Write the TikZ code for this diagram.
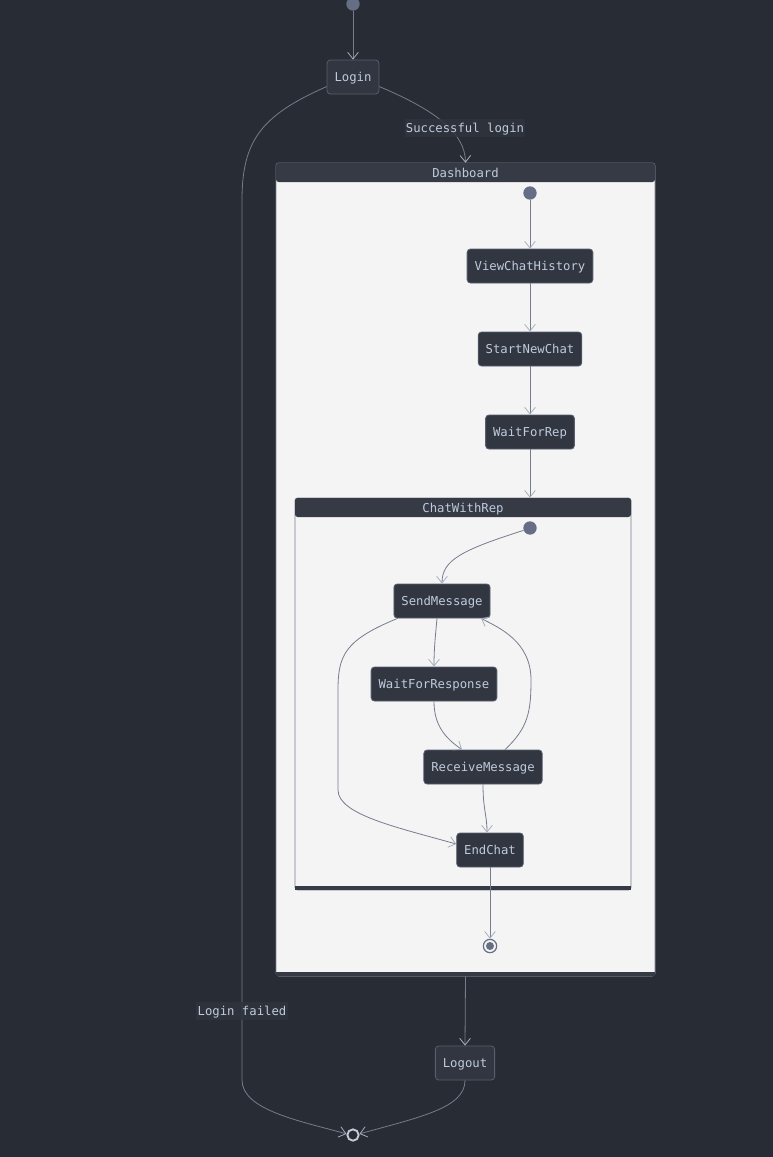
\documentclass[tikz,border=0pt]{standalone}
\usepackage{fontspec}
\setmonofont{DejaVu Sans Mono}
\usepackage{tikz}
\usetikzlibrary{arrows.meta}

\definecolor{bgc}{RGB}{40,44,52}
\definecolor{nodefill}{RGB}{50,54,65}
\definecolor{nodeline}{RGB}{88,94,112}
\definecolor{txtc}{RGB}{190,203,222}
\definecolor{headc}{RGB}{54,58,69}
\definecolor{bodyc}{RGB}{244,244,244}
\definecolor{clline}{RGB}{120,126,142}
\definecolor{edgec}{RGB}{118,124,142}
\definecolor{tipc}{RGB}{168,174,190}
\definecolor{startc}{RGB}{102,110,134}
\definecolor{labc}{RGB}{48,52,61}
\definecolor{ringc}{RGB}{200,204,214}

\tikzset{
  state/.style={draw=nodeline, fill=nodefill, rounded corners=2.5pt, text=txtc,
    font=\ttfamily\fontsize{9.2}{11}\selectfont, minimum height=25.5pt,
    text height=8pt, text depth=1pt,
    inner xsep=5.6pt, inner ysep=0pt, line width=0.6pt},
  cluster/.style={draw=clline, fill=bodyc, rounded corners=2pt, line width=0.6pt},
  clhead/.style={fill=headc, rounded corners=2pt, text=txtc, inner sep=0pt,
    text height=8pt, text depth=1pt,
    font=\ttfamily\fontsize{9.2}{11}\selectfont, minimum height=14.25pt},
  startdot/.style={circle, fill=startc, minimum size=10pt, inner sep=0pt},
  enddot/.style={circle, draw=startc, fill=bodyc, line width=0.9pt, minimum size=10pt,
    inner sep=0pt, path picture={\fill[startc] (path picture bounding box.center) circle (3pt);}},
  finaldot/.style={circle, draw=ringc, fill=bgc, line width=1.4pt, minimum size=8.5pt, inner sep=0pt},
  elabel/.style={fill=labc, fill opacity=0.85, text opacity=1, text=txtc, inner xsep=1pt, inner ysep=2pt,
    text height=8pt, text depth=1pt,
    font=\ttfamily\fontsize{9.2}{11}\selectfont},
  edge/.style={draw=edgec, line width=0.6pt, ->},
}

\begin{document}
\begin{tikzpicture}[x=0.75pt, y=-0.75pt, >={Straight Barb[length=5pt,width=8pt,color=tipc]}]
	% Background:
	\fill[bgc] (0,0) rectangle (773,1157);
	\useasboundingbox (0,0) rectangle (773,1157);
	% Composite states:
	\node[cluster, minimum width=284.25pt, minimum height=609.75pt] (Dash) at (465.5,569.5) {};
	\fill[headc] ([yshift=3pt]Dash.south west) rectangle (Dash.south east);
	\node[clhead, minimum width=284.25pt] (DashT) at (465.5,172.5) {Dashboard};
	\node[cluster, minimum width=252pt, minimum height=294pt] (Chat) at (463,694) {};
	\fill[headc] ([yshift=3pt]Chat.south west) rectangle (Chat.south east);
	\node[clhead, minimum width=252pt] (ChatT) at (463,507.5) {ChatWithRep};
	% States:
	\node[startdot] (S0) at (353,4) {};
	\node[state] (Login) at (353,77) {Login};
	\node[startdot] (S1) at (530,193) {};
	\node[state] (VCH) at (530,266) {ViewChatHistory};
	\node[state] (SNC) at (530,349) {StartNewChat};
	\node[state] (WFRep) at (530,432) {WaitForRep};
	\node[startdot] (S2) at (530,528) {};
	\node[state] (SM) at (442,601) {SendMessage};
	\node[state] (WFR) at (434,684) {WaitForResponse};
	\node[state] (RM) at (483,767) {ReceiveMessage};
	\node[state] (EC) at (490,850) {EndChat};
	\node[enddot] (E1) at (490,946) {};
	\node[state] (Logout) at (465,1063) {Logout};
	\node[finaldot] (Fin) at (353,1135) {};
	% Transitions:
	\draw[edge] (S0) -- (Login);
	\draw[edge] (Login.340) .. controls (440,112) and (465,135) .. (DashT.north);
	\draw[edge] (Login.200) .. controls (262,115) and (242,140) .. (242,200) -- (242,1080)
		.. controls (242,1110) and (300,1121) .. (Fin.170);
	\draw[edge] (S1) -- (VCH);
	\draw[edge] (VCH) -- (SNC);
	\draw[edge] (SNC) -- (WFRep);
	\draw[edge] (WFRep) -- (WFRep |- ChatT.north);
	\draw[edge] (S2.200) .. controls (462,550) and (442,560) .. (SM.north);
	\draw[edge] ([xshift=-3.75pt]SM.south) .. controls (435,640) and (434,650) .. (WFR.north);
	\draw[edge] ([xshift=3pt]SM.south west) .. controls (345,640) and (338,655) .. (338,690) -- (338,790)
		.. controls (338,815) and (400,828) .. (EC.170);
	\draw[edge] (WFR.south) .. controls (434,725) and (445,738) .. ([xshift=-15.75pt]RM.north);
	\draw[edge] ([xshift=16.5pt]RM.north) .. controls (528,728) and (531,712) .. (531,680)
		.. controls (531,642) and (500,628) .. ([xshift=29.25pt]SM.south);
	\draw[edge] (RM.south) .. controls (483,810) and (487,815) .. ([xshift=-2.25pt]EC.north);
	\draw[edge] (EC) -- (E1);
	\draw[edge] (Dash.south) -- (Logout.north);
	\draw[edge] (Logout.south) .. controls (465,1108) and (420,1117) .. (Fin.10);
	% Labels:
	\node[elabel] (LblOk) at (465,128) {Successful login};
	\node[elabel] (LblFail) at (242,1011) {Login failed};
\end{tikzpicture}
\end{document}
